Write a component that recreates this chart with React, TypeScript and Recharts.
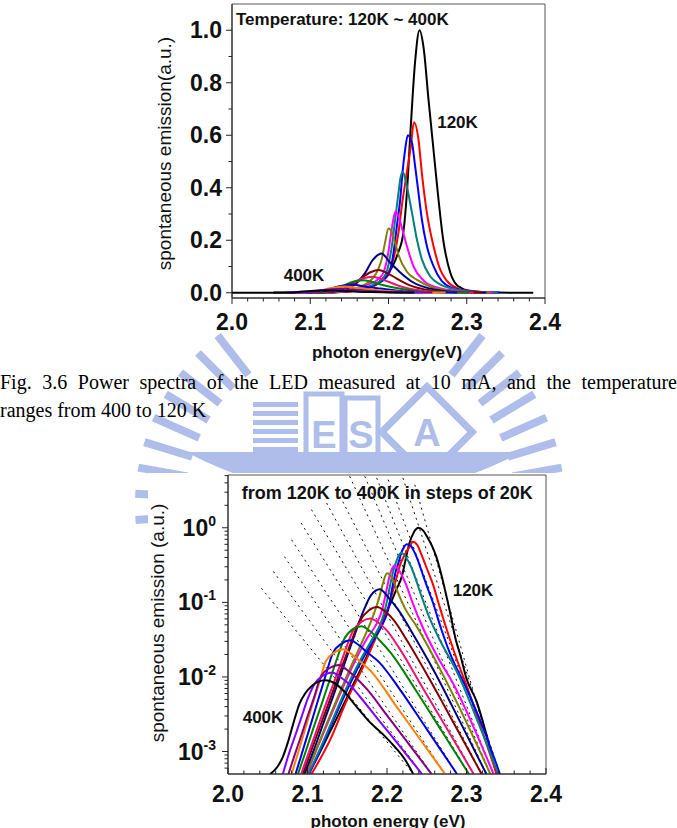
import React from "react";
import { LineChart, Line, XAxis, YAxis, ReferenceLine, ReferenceArea } from "recharts";

type Pt = [number, number];

// temperature series, [photon energy (eV), spontaneous emission (a.u.)]
const temps = [120, 140, 160, 180, 200, 220, 240, 260, 280, 300, 320, 340, 360, 380, 400];
const colors = [
  "#000000", "#ff0000", "#0000ff", "#008080", "#ff00ff", "#808000", "#000080", "#800000",
  "#e6157a", "#008000", "#0000dd", "#ff8000", "#800080", "#8000ff", "#000000",
];

const k120: Pt[] = [[2.0, 1e-4], [2.1, 5e-4], [2.13, 2e-3], [2.16, 9e-3], [2.18, 0.025], [2.195, 0.06], [2.205, 0.1], [2.212, 0.15], [2.219, 0.23], [2.2235, 0.38], [2.228, 0.61], [2.234, 0.88], [2.2396, 1.0], [2.245, 0.93], [2.251, 0.74], [2.257, 0.56], [2.262, 0.41], [2.27, 0.2], [2.279, 0.076], [2.287, 0.03], [2.292, 0.02], [2.3, 0.0095], [2.313, 0.0046], [2.325, 1.7e-3], [2.338, 5e-4], [2.385, 1e-4]];
const k140: Pt[] = [[2.105, 5e-4], [2.128, 1.4e-3], [2.15, 5e-3], [2.17, 0.0137], [2.189, 0.04], [2.2, 0.076], [2.2064, 0.13], [2.2128, 0.23], [2.217, 0.33], [2.223, 0.45], [2.2286, 0.56], [2.2325, 0.65], [2.2383, 0.584], [2.2426, 0.457], [2.249, 0.305], [2.2575, 0.178], [2.266, 0.089], [2.2746, 0.045], [2.288, 0.017], [2.305, 5.5e-3], [2.322, 1.6e-3], [2.338, 5e-4]];
const k160: Pt[] = [[2.102, 5e-4], [2.118, 1.15e-3], [2.135, 3e-3], [2.152, 7.5e-3], [2.17, 0.018], [2.186, 0.035], [2.196, 0.055], [2.2022, 0.085], [2.2064, 0.152], [2.2107, 0.254], [2.215, 0.356], [2.2179, 0.457], [2.2213, 0.546], [2.2247, 0.6], [2.2299, 0.572], [2.234, 0.483], [2.2383, 0.381], [2.2426, 0.28], [2.249, 0.178], [2.2575, 0.101], [2.2682, 0.044], [2.279, 0.021], [2.3, 7e-3], [2.32, 2.2e-3], [2.342, 5e-4]];
const k180: Pt[] = [[2.101, 5e-4], [2.116, 1.1e-3], [2.133, 2.9e-3], [2.15, 7.5e-3], [2.166, 0.0165], [2.182, 0.033], [2.192, 0.052], [2.1987, 0.09], [2.2043, 0.178], [2.2086, 0.28], [2.2128, 0.381], [2.2155, 0.44], [2.218, 0.46], [2.2205, 0.445], [2.2235, 0.406], [2.23, 0.305], [2.2363, 0.203], [2.2427, 0.127], [2.2532, 0.063], [2.266, 0.032], [2.29, 0.0105], [2.315, 2.4e-3], [2.34, 5e-4]];
const k200: Pt[] = [[2.099, 5e-4], [2.112, 1.1e-3], [2.128, 2.8e-3], [2.144, 7e-3], [2.16, 0.0165], [2.175, 0.033], [2.187, 0.052], [2.194, 0.08], [2.199, 0.14], [2.2035, 0.23], [2.2065, 0.285], [2.209, 0.31], [2.2115, 0.3], [2.2145, 0.275], [2.2235, 0.178], [2.232, 0.1], [2.245, 0.046], [2.262, 0.02], [2.285, 7.5e-3], [2.31, 2e-3], [2.334, 5e-4]];
const k220: Pt[] = [[2.098, 5e-4], [2.11, 1e-3], [2.125, 2.5e-3], [2.14, 6e-3], [2.155, 0.0141], [2.17, 0.0316], [2.18, 0.056], [2.187, 0.09], [2.1915, 0.13], [2.1955, 0.19], [2.2, 0.245], [2.2045, 0.23], [2.2085, 0.19], [2.2127, 0.145], [2.2235, 0.08], [2.236, 0.05], [2.255, 0.022], [2.29, 4.1e-3], [2.33, 5e-4]];
const k240: Pt[] = [[2.096, 5e-4], [2.108, 1.05e-3], [2.12, 2.4e-3], [2.133, 5.8e-3], [2.146, 0.0145], [2.159, 0.036], [2.17, 0.075], [2.18, 0.125], [2.191, 0.15], [2.202, 0.115], [2.214, 0.08], [2.23, 0.042], [2.26, 0.0116], [2.292, 2.5e-3], [2.325, 5e-4]];
const k260: Pt[] = [[2.094, 5e-4], [2.104, 9.8e-4], [2.116, 2.2e-3], [2.128, 4.9e-3], [2.14, 0.011], [2.153, 0.026], [2.1655, 0.056], [2.177, 0.078], [2.1875, 0.087], [2.1975, 0.076], [2.209, 0.057], [2.225, 0.031], [2.255, 8.75e-3], [2.287, 2.1e-3], [2.319, 5e-4]];
const k280: Pt[] = [[2.092, 5e-4], [2.101, 9.3e-4], [2.112, 2e-3], [2.123, 4.3e-3], [2.134, 8.9e-3], [2.145, 0.019], [2.157, 0.041], [2.168, 0.055], [2.179, 0.061], [2.189, 0.0537], [2.2, 0.0417], [2.215, 0.0247], [2.245, 7.1e-3], [2.277, 1.9e-3], [2.309, 5e-4]];
const k300: Pt[] = [[2.088, 5e-4], [2.097, 9.5e-4], [2.107, 2e-3], [2.117, 4.1e-3], [2.127, 8.5e-3], [2.137, 0.0174], [2.146, 0.032], [2.157, 0.0437], [2.168, 0.048], [2.178, 0.0417], [2.19, 0.0316], [2.205, 0.0209], [2.235, 6.95e-3], [2.27, 1.8e-3], [2.303, 5e-4]];
const k320: Pt[] = [[2.085, 5e-4], [2.093, 9.5e-4], [2.102, 1.95e-3], [2.112, 4.4e-3], [2.122, 9.8e-3], [2.132, 0.021], [2.143, 0.028], [2.154, 0.031], [2.164, 0.027], [2.175, 0.0214], [2.19, 0.0158], [2.215, 7.1e-3], [2.25, 2e-3], [2.288, 5e-4]];
const k340: Pt[] = [[2.08, 5e-4], [2.088, 9.5e-4], [2.097, 2e-3], [2.106, 4.2e-3], [2.114, 7.9e-3], [2.123, 0.0162], [2.134, 0.0214], [2.145, 0.0235], [2.155, 0.0204], [2.166, 0.0162], [2.18, 0.0119], [2.21, 4.3e-3], [2.242, 1.44e-3], [2.273, 5e-4]];
const k360: Pt[] = [[2.076, 5e-4], [2.084, 9.1e-4], [2.092, 1.62e-3], [2.1, 2.95e-3], [2.108, 5.2e-3], [2.117, 0.0102], [2.128, 0.0132], [2.139, 0.0145], [2.149, 0.0126], [2.16, 0.01], [2.175, 6.8e-3], [2.2, 3.05e-3], [2.228, 1.24e-3], [2.256, 5e-4]];
const k380: Pt[] = [[2.069, 5e-4], [2.076, 8.9e-4], [2.084, 1.58e-3], [2.092, 2.8e-3], [2.1, 5e-3], [2.109, 8.1e-3], [2.12, 0.0105], [2.131, 0.0115], [2.141, 0.01], [2.152, 8.1e-3], [2.165, 5.6e-3], [2.19, 2.6e-3], [2.217, 1.15e-3], [2.244, 5e-4]];
const k400: Pt[] = [[2.053, 5e-4], [2.062, 6.2e-4], [2.069, 8.5e-4], [2.076, 1.4e-3], [2.082, 2.35e-3], [2.09, 4.4e-3], [2.097, 6e-3], [2.105, 7.5e-3], [2.113, 8.6e-3], [2.122, 9e-3], [2.132, 8.5e-3], [2.145, 6.6e-3], [2.16, 4.2e-3], [2.178, 2.5e-3], [2.195, 1.7e-3], [2.21, 1.15e-3], [2.222, 8e-4], [2.233, 5e-4]];

const curves = [k120, k140, k160, k180, k200, k220, k240, k260, k280, k300, k320, k340, k360, k380, k400];

// dashed high-energy-tail guides in the log plot: [E start, value start, E end, value end], 400K .. 140K
const guides: [number, number, number, number][] = [
  [2.042, 0.155, 2.233, 5e-4],
  [2.057, 0.26, 2.244, 5e-4],
  [2.071, 0.41, 2.256, 5e-4],
  [2.08, 0.69, 2.273, 5e-4],
  [2.092, 1.16, 2.288, 5e-4],
  [2.105, 1.75, 2.303, 5e-4],
  [2.124, 2.15, 2.309, 5e-4],
  [2.141, 2.64, 2.319, 5e-4],
  [2.153, 4.9, 2.325, 5e-4],
  [2.172, 4.9, 2.33, 5e-4],
  [2.187, 4.66, 2.334, 5e-4],
  [2.2015, 4.42, 2.34, 5e-4],
  [2.22, 4.66, 2.342, 5e-4],
  [2.235, 3.78, 2.338, 5e-4],
];

const xMajor = [2.0, 2.1, 2.2, 2.3, 2.4];
const xMinor = [2.02, 2.04, 2.06, 2.08, 2.12, 2.14, 2.16, 2.18, 2.22, 2.24, 2.26, 2.28, 2.32, 2.34, 2.36, 2.38];
const linMajor = [0, 0.2, 0.4, 0.6, 0.8, 1.0];
const linMinor = [0.1, 0.3, 0.5, 0.7, 0.9];
const logMajor = [1e-3, 1e-2, 1e-1, 1];
const logExp = ["-3", "-2", "-1", "0"];
const logMinor = [6e-4, 7e-4, 8e-4, 9e-4, 2e-3, 3e-3, 4e-3, 5e-3, 6e-3, 7e-3, 8e-3, 9e-3, 0.02, 0.03, 0.04, 0.05, 0.06, 0.07, 0.08, 0.09, 0.2, 0.3, 0.4, 0.5, 0.6, 0.7, 0.8, 0.9, 2, 3, 4, 5];

const series = curves.map((c) => c.map(([e, v]) => ({ e, v })));

const FONT = "'Liberation Sans', Arial, Helvetica, sans-serif";
const AXIS = "#222";
const INK = "#111";

const majorIdx = (list: number[], v: number) => list.findIndex((m) => Math.abs(m - v) < 1e-9);

const LinYTick = (props: any) => {
  const { x, y, payload } = props;
  const major = majorIdx(linMajor, payload.value) >= 0;
  return (
    <g>
      <line x1={x - (major ? 6 : 3.5)} x2={x} y1={y} y2={y} stroke={AXIS} />
      {major && (
        <text x={x - 10} y={y + 8} textAnchor="end" fontFamily={FONT} fontWeight="bold" fontSize={23} fill={INK}>
          {payload.value.toFixed(1)}
        </text>
      )}
    </g>
  );
};

const LogYTick = (props: any) => {
  const { x, y, payload } = props;
  const i = majorIdx(logMajor, payload.value);
  return (
    <g>
      <line x1={x - (i >= 0 ? 6 : 3.5)} x2={x} y1={y} y2={y} stroke={AXIS} />
      {i >= 0 && (
        <text x={x - 12} y={y + 8} textAnchor="end" fontFamily={FONT} fontWeight="bold" fontSize={23} fill={INK}>
          <tspan>10</tspan>
          <tspan fontSize={14} dy={-10}>{logExp[i]}</tspan>
        </text>
      )}
    </g>
  );
};

const makeXTick = (dir: number, labelDy: number) => (props: any) => {
  const { x, y, payload } = props;
  const major = majorIdx(xMajor, payload.value) >= 0;
  return (
    <g>
      <line x1={x} x2={x} y1={y} y2={y + dir * (major ? 6 : 3.5)} stroke={AXIS} />
      {major && (
        <text x={x} y={y + labelDy} textAnchor="middle" fontFamily={FONT} fontWeight="bold" fontSize={23} fill={INK}>
          {payload.value.toFixed(1)}
        </text>
      )}
    </g>
  );
};

const xTicks = [...xMajor, ...xMinor].sort((a, b) => a - b);
const logTicks = [...logMajor, ...logMinor].sort((a, b) => a - b);

function TopChart() {
  return (
    <LineChart width={677} height={345} margin={{ top: 4, right: 132, bottom: 0, left: 0 }}>
      <XAxis
        dataKey="e"
        type="number"
        domain={[2, 2.4]}
        ticks={xTicks}
        interval={0}
        allowDataOverflow
        height={47}
        tickSize={0}
        tickMargin={0}
        tickLine={false}
        axisLine={{ stroke: AXIS }}
        tick={makeXTick(1, 32)}
      />
      <YAxis
        type="number"
        domain={[-0.02, 1.1]}
        ticks={[...linMajor, ...linMinor].sort((a, b) => a - b)}
        interval={0}
        allowDataOverflow
        width={232}
        tickSize={0}
        tickMargin={0}
        tickLine={false}
        axisLine={{ stroke: AXIS }}
        tick={LinYTick}
      />
      <ReferenceArea x1={2} x2={2.4} y1={-0.02} y2={1.1} fillOpacity={0} stroke="#555" ifOverflow="visible" />
      {series.map((d, i) => (
        <Line
          key={temps[i]}
          data={d}
          dataKey="v"
          type="monotone"
          stroke={colors[i]}
          strokeWidth={2}
          dot={false}
          isAnimationActive={false}
        />
      ))}
    </LineChart>
  );
}

// same frame as the log chart, only the dashed guides, drawn underneath the curves
function BottomGuides() {
  return (
    <LineChart width={677} height={388} margin={{ top: 35, right: 131, bottom: 0, left: 0 }}>
      <XAxis dataKey="e" type="number" domain={[2, 2.4]} allowDataOverflow height={54} tick={false} tickLine={false} axisLine={false} />
      <YAxis type="number" scale="log" domain={[5e-4, 5.1]} allowDataOverflow width={228} tick={false} tickLine={false} axisLine={false} />
      {guides.map((g, i) => (
        <ReferenceLine
          key={"g" + i}
          segment={[{ x: g[0], y: g[1] }, { x: g[2], y: g[3] }]}
          stroke="#111"
          strokeWidth={1}
          strokeDasharray="2 4"
          ifOverflow="visible"
        />
      ))}
    </LineChart>
  );
}

function BottomChart() {
  return (
    <LineChart width={677} height={388} margin={{ top: 35, right: 131, bottom: 0, left: 0 }}>
      <XAxis
        dataKey="e"
        type="number"
        domain={[2, 2.4]}
        ticks={xTicks}
        interval={0}
        allowDataOverflow
        height={54}
        tickSize={0}
        tickMargin={0}
        tickLine={false}
        axisLine={{ stroke: AXIS }}
        tick={makeXTick(-1, 28)}
      />
      <YAxis
        type="number"
        scale="log"
        domain={[5e-4, 5.1]}
        ticks={logTicks}
        interval={0}
        allowDataOverflow
        width={228}
        tickSize={0}
        tickMargin={0}
        tickLine={false}
        axisLine={{ stroke: AXIS }}
        tick={LogYTick}
      />
      <ReferenceArea x1={2} x2={2.4} y1={5e-4} y2={5.1} fillOpacity={0} stroke="#555" ifOverflow="visible" />
      {series.map((d, i) => (
        <Line
          key={temps[i]}
          data={d}
          dataKey="v"
          type="monotone"
          stroke={colors[i]}
          strokeWidth={2}
          dot={false}
          isAnimationActive={false}
        />
      ))}
    </LineChart>
  );
}

const WM = "#aebde9";

function Watermark() {
  const cx = 350;
  const cy = 505;
  const barAngles = [176, 183, 190, 197, 204, 211, 218, 225, 232, 308, 315, 322, 329, 336, 343, 350, 357, 364];
  return (
    <svg width={677} height={828} style={{ position: "absolute", left: 0, top: 0 }}>
      {barAngles.map((a) => {
        const r = (a * Math.PI) / 180;
        return (
          <line
            key={a}
            x1={cx + 165 * Math.cos(r)}
            y1={cy + 165 * Math.sin(r)}
            x2={cx + 215 * Math.cos(r)}
            y2={cy + 215 * Math.sin(r)}
            stroke={WM}
            strokeWidth={8}
          />
        );
      })}
      {[0, 1, 2, 3, 4, 5].map((i) => (
        <rect key={i} x={253} y={402 + i * 9} width={45} height={5} fill={WM} />
      ))}
      <rect x={306} y={394} width={36} height={62} fill="none" stroke={WM} strokeWidth={5} />
      <rect x={345} y={398} width={33} height={58} fill="none" stroke={WM} strokeWidth={5} />
      <text x={324} y={448} textAnchor="middle" fontFamily={FONT} fontWeight="bold" fontSize={38} fill={WM}>E</text>
      <text x={361} y={448} textAnchor="middle" fontFamily={FONT} fontWeight="bold" fontSize={38} fill={WM}>S</text>
      <rect x={395} y={400} width={64} height={64} fill="none" stroke={WM} strokeWidth={7} transform="rotate(45 427 432)" />
      <text x={427} y={446} textAnchor="middle" fontFamily={FONT} fontWeight="bold" fontSize={38} fill={WM}>A</text>
      <path d="M186 452 L522 452 Q354 540 186 452 Z" fill={WM} />
    </svg>
  );
}

function Labels() {
  const bold = { fontFamily: FONT, fontWeight: "bold" as const, fill: INK };
  return (
    <svg width={677} height={828} style={{ position: "absolute", left: 0, top: 0, pointerEvents: "none" }}>
      <text x={236} y={25} fontSize={17} {...bold}>Temperature: 120K ~ 400K</text>
      <text x={457.5} y={127.5} fontSize={17} textAnchor="middle" {...bold}>120K</text>
      <text x={304} y={281} fontSize={17} textAnchor="middle" {...bold}>400K</text>
      <text x={164} y={153.5} fontSize={19} fontFamily={FONT} fill={INK} textAnchor="middle" dominantBaseline="central" transform="rotate(-90 164 153.5)">
        spontaneous emission(a.u.)
      </text>
      <text x={387} y={358} fontSize={17} textAnchor="middle" {...bold}>photon energy(eV)</text>

      <text x={241.7} y={498.5} fontSize={18} {...bold}>from 120K to 400K in steps of 20K</text>
      <text x={473} y={596} fontSize={17} textAnchor="middle" {...bold}>120K</text>
      <text x={263} y={722.5} fontSize={17} textAnchor="middle" {...bold}>400K</text>
      <text x={157.5} y={623} fontSize={19} fontFamily={FONT} fill={INK} textAnchor="middle" dominantBaseline="central" transform="rotate(-90 157.5 623)">
        spontaneous emission (a.u.)
      </text>
      <text x={388} y={827} fontSize={17} textAnchor="middle" {...bold}>photon energy (eV)</text>
    </svg>
  );
}

function Caption() {
  const base: React.CSSProperties = {
    position: "absolute",
    left: 0,
    width: 677,
    fontFamily: "'Liberation Serif', 'Times New Roman', Times, serif",
    fontSize: 20,
    lineHeight: "28px",
    color: "#000",
    whiteSpace: "nowrap",
  };
  return (
    <>
      <div style={{ ...base, top: 368, textAlign: "justify", textAlignLast: "justify", whiteSpace: "normal" }}>
        Fig. 3.6 Power spectra of the LED measured at 10 mA, and the temperature
      </div>
      <div style={{ ...base, top: 396 }}>ranges from 400 to 120 K</div>
    </>
  );
}

export default function App() {
  return (
    <div style={{ position: "absolute", left: 0, top: 0, width: 677, height: 828, overflow: "hidden", background: "#fff" }}>
      <Watermark />
      <div style={{ position: "absolute", left: 148, top: 473, width: 417, height: 355, background: "#fff" }} />
      <div style={{ position: "absolute", left: 0, top: 0 }}>
        <TopChart />
      </div>
      <div style={{ position: "absolute", left: 0, top: 440 }}>
        <BottomGuides />
      </div>
      <div style={{ position: "absolute", left: 0, top: 440 }}>
        <BottomChart />
      </div>
      <Labels />
      <Caption />
    </div>
  );
}
